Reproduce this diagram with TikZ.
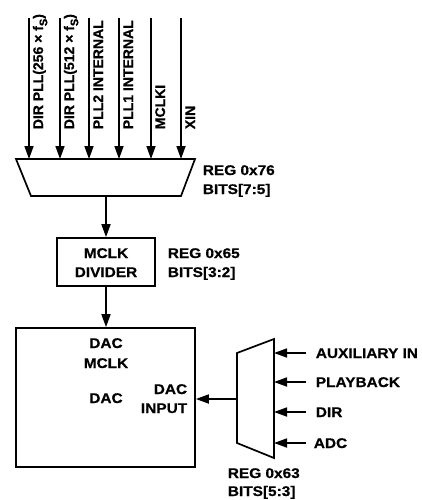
\documentclass[tikz,border=0pt]{standalone}
\usepackage{fontspec}
\usetikzlibrary{arrows.meta}
\newfontfamily\hfont{Liberation Sans Bold}[FakeStretch=1.1,FakeBold=0.6]
\newfontfamily\vfont{Liberation Sans Bold}[FakeBold=0.6]
\newcommand{\fsub}{f\raisebox{-0.3em}{\fontsize{11}{11}\selectfont S}}
\begin{document}
\begin{tikzpicture}[x=1pt,y=-1pt, line width=1.7pt,
  arr/.style={-{Triangle[length=13pt,width=9pt]}},
  htxt/.style={font=\hfont\fontsize{14}{19}\selectfont, inner sep=0pt},
  vtxt/.style={font=\vfont\fontsize{14}{19}\selectfont, inner sep=0pt, rotate=90, anchor=base west},
  box/.style={draw, line width=1.7pt, inner sep=0pt}]
\useasboundingbox (0,0) rectangle (422,500);

% top mux
\coordinate (m1tl) at (16,159);
\coordinate (m1tr) at (195,159);
\coordinate (m1br) at (181,196);
\coordinate (m1bl) at (31,196);
\coordinate (m1b) at (106,196);
\draw (m1tl) -- (m1tr) -- (m1br) -- (m1bl) -- cycle;

% top inputs
\foreach \x/\n/\t in {29/i1/{DIR PLL(256 × \fsub)}, 60/i2/{DIR PLL(512 × \fsub)}, 89/i3/{PLL2 INTERNAL}, 119/i4/{PLL1 INTERNAL}, 151/i5/{MCLKI}, 181/i6/{XIN}}{
  \coordinate (\n) at (\x,18);
  \draw[arr] (\n) -- (\n |- m1tl);
  \node[vtxt] (\n lbl) at (\x+14,130) {\t};
}

\node[htxt, anchor=base west] (reg76) at (202,175) {REG 0x76};
\node[htxt, anchor=base west] (bits75) at (202,194) {BITS[7:5]};

% divider
\node[box, minimum width=98pt, minimum height=48pt] (div) at (106,262) {};
\node[htxt, anchor=base] (divt1) at (106,258) {MCLK};
\node[htxt, anchor=base] (divt2) at (106,277) {DIVIDER};
\node[htxt, anchor=base west] (reg65) at (167,258) {REG 0x65};
\node[htxt, anchor=base west] (bits32) at (167,277) {BITS[3:2]};
\draw[arr] (m1b) -- (div.north);

% DAC box
\node[box, minimum width=179pt, minimum height=139pt] (dac) at (105.5,397.5) {};
\draw[arr] (div.south) -- (dac.north -| div.south);
\node[htxt, anchor=base] (dmclk1) at (106,348) {DAC};
\node[htxt, anchor=base] (dmclk2) at (106,368) {MCLK};
\node[htxt, anchor=base] (ddac) at (106,403) {DAC};
\node[htxt, anchor=base east] (din1) at (188,394) {DAC};
\node[htxt, anchor=base east] (din2) at (188,413) {INPUT};

% second mux
\coordinate (m2tl) at (237,353);
\coordinate (m2tr) at (274,339);
\coordinate (m2br) at (274,458);
\coordinate (m2bl) at (237,443);
\coordinate (m2out) at (237,399);
\draw (m2tl) -- (m2tr) -- (m2br) -- (m2bl) -- cycle;
\draw[arr] (m2out) -- (m2out -| dac.east);

\foreach \y/\n/\t/\xl in {353/a1/{AUXILIARY IN}/315, 382/a2/{PLAYBACK}/315, 412/a3/{DIR}/315, 443/a4/{ADC}/313}{
  \coordinate (\n) at (306,\y);
  \draw[arr] (\n) -- (\n -| m2tr);
  \node[htxt, anchor=base west] (\n lbl) at (\xl,\y+5) {\t};
}

\node[htxt, anchor=base west] (reg63) at (227,478) {REG 0x63};
\node[htxt, anchor=base west] (bits53) at (227,496) {BITS[5:3]};
\end{tikzpicture}
\end{document}
